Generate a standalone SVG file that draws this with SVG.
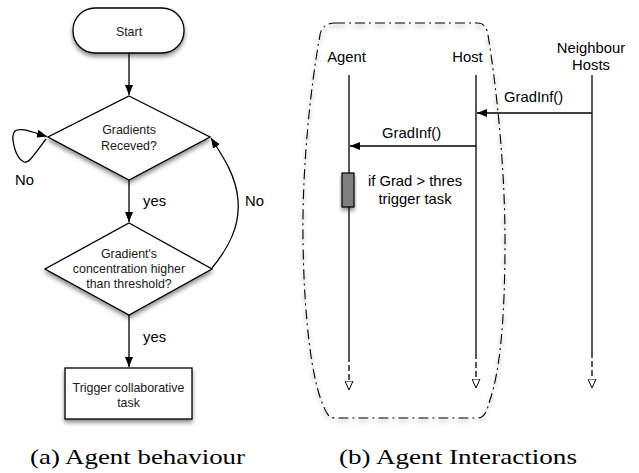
<svg xmlns="http://www.w3.org/2000/svg" width="639" height="473" viewBox="0 0 639 473">
<style>
.shape{fill:#fff;stroke:#000;stroke-width:1.3;filter:url(#sh)}
.ln{fill:none;stroke:#000;stroke-width:1.3}
.t{font-family:"Liberation Sans",Arial,sans-serif;font-size:12.4px;fill:#1a1a1a;text-anchor:middle}
.lb{font-family:"Liberation Sans",Arial,sans-serif;font-size:14.8px;fill:#000}
.cap{font-family:"Liberation Serif","Times New Roman",serif;font-size:21px;fill:#000;text-anchor:middle}
</style>
<defs>
<filter id="sh" x="-20%" y="-20%" width="140%" height="150%">
<feDropShadow dx="0" dy="3" stdDeviation="2" flood-color="#000" flood-opacity="0.45"/>
</filter>
<marker id="arr" viewBox="0 0 10 8" refX="10" refY="4" markerWidth="10" markerHeight="8" markerUnits="userSpaceOnUse" orient="auto">
<path d="M0,0 L10,4 L0,8 z" fill="#000"/>
</marker>
<marker id="open" viewBox="0 0 10 9" refX="9.5" refY="4.5" markerWidth="10" markerHeight="9" markerUnits="userSpaceOnUse" orient="auto">
<path d="M0.5,0.5 L9.5,4.5 L0.5,8.5 z" fill="#fff" stroke="#000" stroke-width="1"/>
</marker>
</defs>
<rect width="639" height="473" fill="#fff"/>

<!-- (a) flowchart -->
<g id="start">
<rect class="shape" x="73" y="8" width="111" height="45" rx="22" ry="22"/>
<text class="t" x="129" y="35.5">Start</text>
</g>
<g id="gradients-received">
<path class="shape" d="M129,96 L210,137 L129,180 L48,137 Z"/>
<text class="t" x="129" y="134">Gradients</text>
<text class="t" x="129" y="150">Receved?</text>
</g>
<g id="concentration-check">
<path class="shape" d="M129,223 L212,269 L129,315 L45,269 Z"/>
<text class="t" x="129" y="258">Gradient's</text>
<text class="t" x="129" y="273">concentration higher</text>
<text class="t" x="129" y="287.5">than threshold?</text>
</g>
<g id="trigger-task">
<rect class="shape" x="65" y="368" width="127" height="51"/>
<text class="t" x="128.5" y="391.5">Trigger collaborative</text>
<text class="t" x="128.5" y="406.5">task</text>
</g>
<g id="connectors-a">
<line class="ln" x1="129" y1="53" x2="129" y2="95" marker-end="url(#arr)"/>
<line class="ln" x1="129" y1="180" x2="129" y2="222" marker-end="url(#arr)"/>
<line class="ln" x1="129" y1="315" x2="129" y2="367" marker-end="url(#arr)"/>
<path class="ln" d="M46,139 C36,152 29,164 24,162 C15,158 10,136 15,131 C20,127 32,132 47,136.5" marker-end="url(#arr)"/>
<path class="ln" d="M212,268 C230,246 240,225 238,200 C236,176 224,158 211,138" marker-end="url(#arr)"/>
<text class="lb" x="15" y="185">No</text>
<text class="lb" x="143" y="206">yes</text>
<text class="lb" x="245" y="206">No</text>
<text class="lb" x="143" y="342">yes</text>
</g>
<text class="cap" x="137.5" y="464" textLength="215" lengthAdjust="spacingAndGlyphs">(a) Agent behaviour</text>

<!-- (b) interactions -->
<g id="enclosure">
<path d="M335,23 L478,23 C484,23 487,28 488,35 C497,90 505,170 505,240 C505,320 500,370 490,400 C487,410 485,418 478,418 L335,418 C328,418 326,412 323,405 C312,380 304,320 303,240 C302,170 310,90 320,35 C321,28 326,23 335,23 Z" fill="none" stroke="#000" stroke-width="1.1" stroke-dasharray="10 4 2 4" filter="url(#sh)"/>
</g>
<g id="agent">
<text class="lb" x="346.5" y="62" text-anchor="middle">Agent</text>
<line class="ln" x1="349" y1="75" x2="349" y2="356"/>
<line class="ln" x1="349" y1="356" x2="349" y2="390" stroke-dasharray="6 3" marker-end="url(#open)"/>
<rect x="342" y="173" width="12" height="34" fill="#808080" stroke="#000" stroke-width="1.2" filter="url(#sh)"/>
<text class="lb" x="415" y="186" text-anchor="middle">if Grad &gt; thres</text>
<text class="lb" x="415" y="204" text-anchor="middle">trigger task</text>
</g>
<g id="host">
<text class="lb" x="467.5" y="62" text-anchor="middle">Host</text>
<line class="ln" x1="476" y1="75" x2="476" y2="353"/>
<line class="ln" x1="476" y1="353" x2="476" y2="388" stroke-dasharray="6 3" marker-end="url(#open)"/>
</g>
<g id="neighbour-hosts">
<text class="lb" x="591" y="53" text-anchor="middle">Neighbour</text>
<text class="lb" x="591" y="70" text-anchor="middle">Hosts</text>
<line class="ln" x1="592" y1="75" x2="592" y2="352"/>
<line class="ln" x1="592" y1="352" x2="592" y2="388" stroke-dasharray="6 3" marker-end="url(#open)"/>
</g>
<g id="connectors-b">
<line class="ln" x1="592" y1="113" x2="477" y2="113" marker-end="url(#arr)"/>
<text class="lb" x="504" y="102">GradInf()</text>
<line class="ln" x1="476" y1="146" x2="350" y2="146" marker-end="url(#arr)"/>
<text class="lb" x="382" y="138">GradInf()</text>
</g>
<text class="cap" x="458" y="464" textLength="238" lengthAdjust="spacingAndGlyphs">(b) Agent Interactions</text>
</svg>
